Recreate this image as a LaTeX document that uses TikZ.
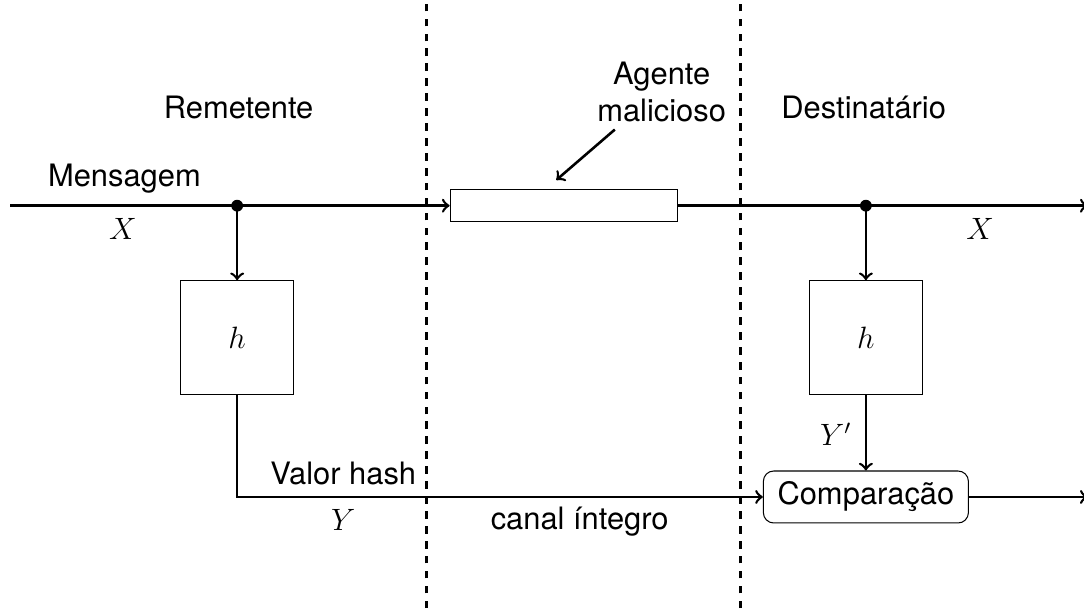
\documentclass[12pt,tikz,border=0pt]{standalone}
\usepackage{fontspec}
\setmainfont{TeX Gyre Heros}
\begin{document}
\begin{tikzpicture}[
          seta/.style={line width=1pt,->},
          caixa/.style={draw,thin,minimum width=1.55cm,minimum height=1.55cm},
          rotulo/.style={anchor=base},
        ]
          \useasboundingbox (0,0) rectangle (14.81,8.31);

          \foreach \x in {5.83,10.12}
          {
            \draw[line width=1pt,dash pattern=on 3pt off 2.8pt] (\x,0) -- (\x,8.31);
          }

          \coordinate (inicio) at (0.14,5.5);
          \coordinate (fimX) at (14.86,5.5);
          \coordinate (fimC) at (14.86,1.52);
          \coordinate (ramoA) at (3.24,5.5);
          \coordinate (ramoB) at (11.83,5.5);
          \coordinate (ag1) at (8.40,6.54);
          \coordinate (ag2) at (7.60,5.85);

          \node[draw,thin,minimum width=3.1cm,minimum height=0.44cm] (canal) at (7.70,5.5) {};
          \node[caixa] (hA) at (3.24,3.7) {$h$};
          \node[caixa] (hB) at (11.83,3.7) {$h$};
          \node[draw,thin,rounded corners,minimum height=0.71cm,inner xsep=5.5pt] (comp) at (11.83,1.52) {Comparação};

          \draw[seta] (inicio) -- (canal.west);
          \draw[seta] (canal.east) -- (fimX);
          \fill (ramoA) circle (2.3pt);
          \fill (ramoB) circle (2.3pt);
          \draw[seta] (ramoA) -- (hA.north);
          \draw[seta] (ramoB) -- (hB.north);
          \draw[seta] (hA.south) |- (comp.west);
          \draw[seta] (hB.south) -- (comp.north);
          \draw[seta] (comp.east) -- (fimC);
          \draw[seta] (ag1) -- (ag2);

          \node[rotulo] (remetente) at (3.26,6.69) {Remetente};
          \node[rotulo] (destino) at (11.80,6.69) {Destinatário};
          \node[align=center] (agente) at (9.04,7.05) {Agente\\malicioso};
          \node[rotulo] (mensagem) at (1.70,5.765) {Mensagem};
          \node[rotulo] (xA) at (1.68,5.04) {$X$};
          \node[rotulo] (xB) at (13.39,5.04) {$X$};
          \node[rotulo] (valor) at (4.69,1.694) {Valor hash};
          \node[rotulo] (yA) at (4.69,1.066) {$Y$};
          \node[rotulo] (integro) at (7.92,1.079) {canal íntegro};
          \node[rotulo] (yB) at (11.42,2.227) {$Y'$};

         \end{tikzpicture}
\end{document}
